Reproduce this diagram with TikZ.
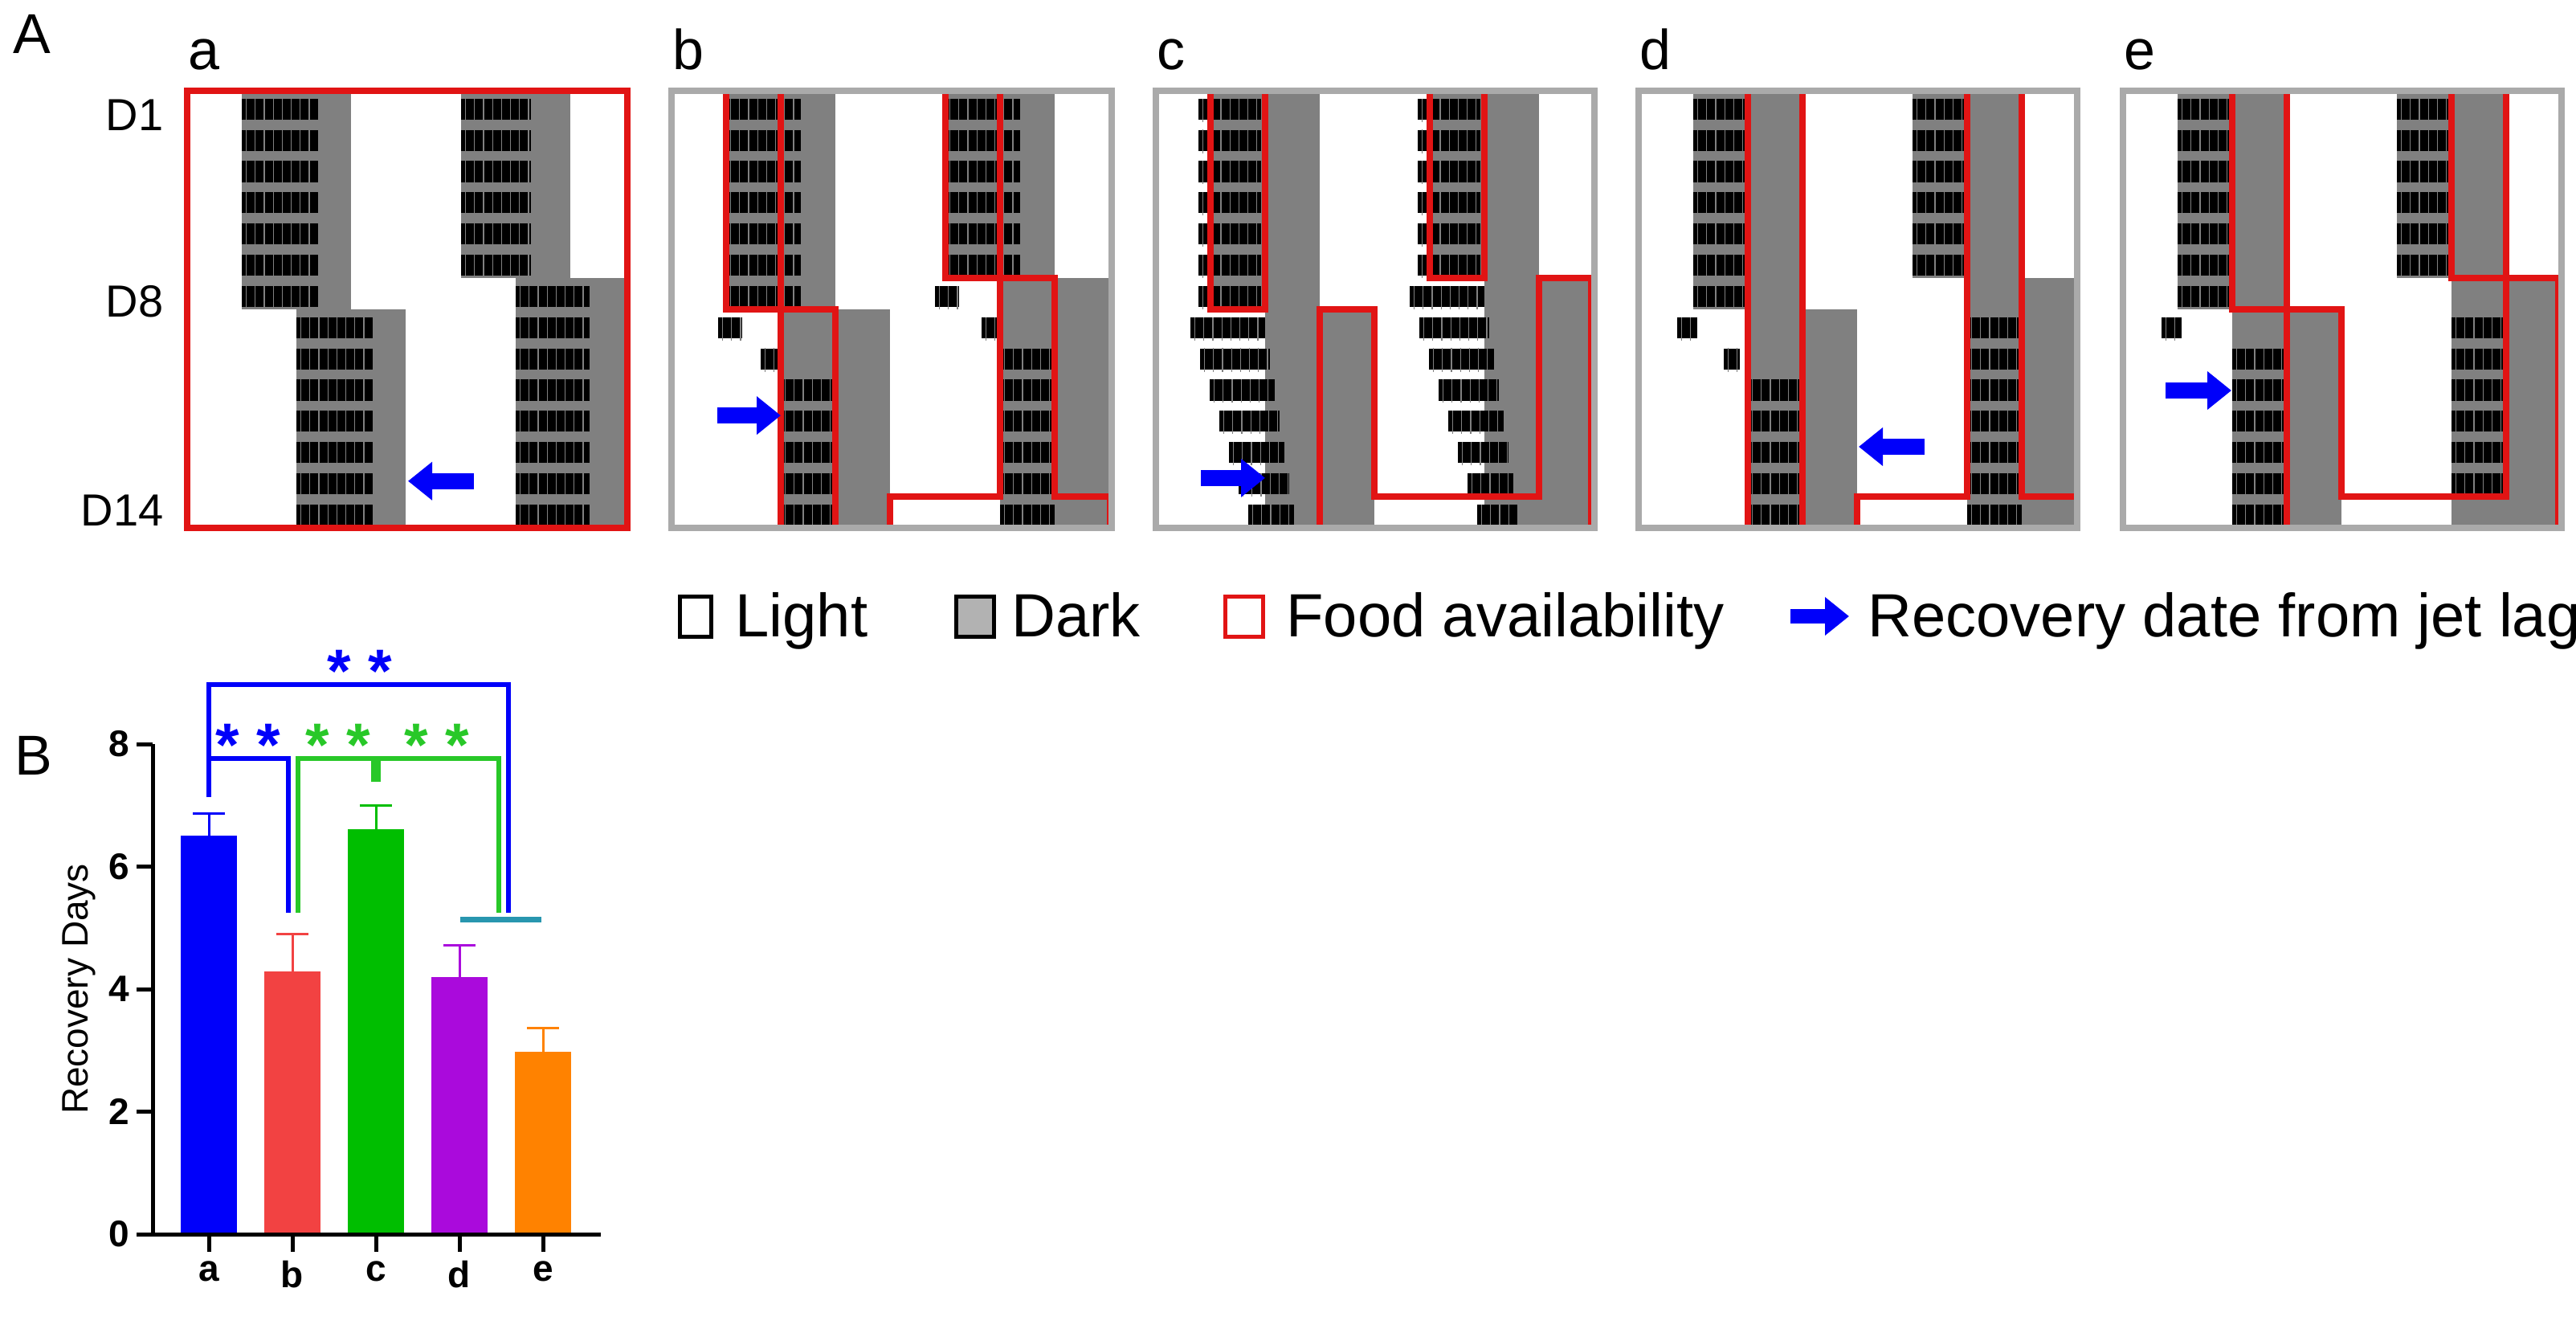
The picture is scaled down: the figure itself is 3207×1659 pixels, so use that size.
\documentclass[tikz,border=0pt]{standalone}
\usepackage{fontspec}
\setmainfont{Liberation Sans}
\usetikzlibrary{arrows.meta}
\definecolor{dk}{RGB}{128,128,128}
\definecolor{pgray}{RGB}{170,170,170}
\definecolor{fred}{RGB}{225,20,20}
\definecolor{bblue}{RGB}{0,0,250}
\definecolor{bred}{RGB}{242,66,66}
\definecolor{bgreen}{RGB}{0,190,0}
\definecolor{bpurple}{RGB}{170,10,220}
\definecolor{borange}{RGB}{255,130,0}
\definecolor{teal2}{RGB}{40,150,175}
\definecolor{sgreen}{RGB}{40,200,40}
\newcommand\fs[1]{\fontsize{#1}{#1}\selectfont}
\def\rh{38.857}
\def\eA{68}\def\eB{136}\def\eC{204}\def\eD{272}
\newcommand\act[3]{%
  \fill[black] ({#1},{(#3+1)*\rh-3}) rectangle ({#2},{(#3+0.25)*\rh});
  \draw[dk,line width={0.75*\rh},dash pattern=on 1.2 off 10] ({#1+5},{(#3+0.62)*\rh}) -- ({#2},{(#3+0.62)*\rh});}
\newcommand\darkbands{%
  \fill[dk] (\eA,0) rectangle (\eC,{7*\rh});
  \fill[dk] (\eB,{7*\rh}) rectangle (\eD,{14*\rh});
  \fill[dk] ({\eA+273},0) rectangle ({\eC+273},{6*\rh});
  \fill[dk] ({\eB+273},{6*\rh}) rectangle (546,{14*\rh});}
\tikzset{food/.style={draw=fred,line width=8,line join=miter},
  pframe/.style={draw=pgray,line width=8},
  jet/.style={draw=bblue,line width=20,-{Triangle[length=30,width=46]}},
  lab/.style={font=\fs{70}},
  dlab/.style={font=\fs{56},anchor=east},
  brk/.style={line width=6},
  ast/.style={font=\bfseries\fs{76}},
  tk/.style={font=\bfseries\fs{46}},
  leg/.style={font=\fs{76},anchor=base west}}
\begin{document}
\begin{tikzpicture}[x=1pt,y=-1pt]
\useasboundingbox (0,0) rectangle (3207,1659);
\fill[white] (0,0) rectangle (3207,1659);
\node[lab] (A) at (40,42) {A};
\node[dlab] (d1) at (207,143) {D1};
\node[dlab] (d8) at (207,375) {D8};
\node[dlab] (d14) at (207,635) {D14};
% ---------- panel a
\begin{scope}[shift={(233,113)}]
\darkbands
\foreach \k in {0,...,6} {\act{\eA}{\eA+95}{\k}}
\foreach \k in {7,...,13} {\act{\eB}{\eB+95}{\k}}
\foreach \k in {0,...,5} {\act{\eA+273}{\eA+360}{\k}}
\foreach \k in {6,...,13} {\act{\eB+273}{\eB+365}{\k}}
\draw[food] (0,0) rectangle (548,544);
\coordinate (aT) at (357,{12.5*\rh}); \coordinate (aH) at (275,{12.5*\rh});
\draw[jet] (aT) -- (aH);
\node[lab,anchor=south west] (la) at (-2,-22) {a};
\end{scope}
% ---------- panel b
\begin{scope}[shift={(836,113)}]
\darkbands
\foreach \k in {0,...,6} {\act{\eA}{\eB+25}{\k}}
\act{\eA-10}{\eA+20}{7}\act{\eB-25}{\eB}{8}
\foreach \k in {9,...,13} {\act{\eB}{\eC}{\k}}
\foreach \k in {0,...,5} {\act{\eA+273}{\eB+298}{\k}}
\act{\eA+260}{\eA+290}{6}\act{\eB+250}{\eB+273}{7}
\foreach \k in {8,...,13} {\act{\eB+273}{\eC+273}{\k}}
\draw[food] (\eA,0) rectangle (\eB,{7*\rh});
\draw[food] ({\eA+273},0) rectangle ({\eB+273},{6*\rh});
\draw[food] (\eB,{7*\rh}) rectangle (\eC,{14*\rh});
\draw[food] (\eD,{13*\rh}) -- ({\eB+273},{13*\rh}) -- ({\eB+273},{6*\rh}) -- ({\eC+273},{6*\rh}) -- ({\eC+273},{13*\rh}) -- (546,{13*\rh}) -- (546,{14*\rh}) -- (\eD,{14*\rh}) -- cycle;
\draw[pframe] (0,0) rectangle (548,544);
\coordinate (bT) at (57,{10.4*\rh}); \coordinate (bH) at (136,{10.4*\rh});
\draw[jet] (bT) -- (bH);
\node[lab,anchor=south west] (lb) at (-2,-22) {b};
\end{scope}
% ---------- panel c
\begin{scope}[shift={(1439,113)}]
\darkbands
\foreach \k in {0,...,6} {\act{\eA-15}{\eB-5}{\k}}
\foreach \k in {7,...,13} {\act{\eA-25+(\k-7)*12}{\eB+(\k-7)*6}{\k}}
\foreach \k in {0,...,5} {\act{\eA+258}{\eB+268}{\k}}
\foreach \k in {6,...,13} {\act{\eA+248+(\k-6)*12}{\eB+273+(\k-6)*6}{\k}}
\draw[food] (\eA,0) rectangle (\eB,{7*\rh});
\draw[food] ({\eA+273},0) rectangle ({\eB+273},{6*\rh});
\draw[food] (\eC,{7*\rh}) -- (\eD,{7*\rh}) -- (\eD,{13*\rh}) -- ({\eC+273},{13*\rh}) -- ({\eC+273},{6*\rh}) -- (542,{6*\rh}) -- (542,{14*\rh}) -- (\eC,{14*\rh}) -- cycle;
\draw[pframe] (0,0) rectangle (546,544);
\coordinate (cT) at (56,{12.4*\rh}); \coordinate (cH) at (136,{12.4*\rh});
\draw[jet] (cT) -- (cH);
\node[lab,anchor=south west] (lc) at (-2,-22) {c};
\end{scope}
% ---------- panel d
\begin{scope}[shift={(2040,113)}]
\darkbands
\foreach \k in {0,...,6} {\act{\eA}{\eB}{\k}}
\act{\eA-20}{\eA+5}{7}\act{\eB-30}{\eB-10}{8}
\foreach \k in {9,...,13} {\act{\eB}{\eC}{\k}}
\foreach \k in {0,...,5} {\act{\eA+273}{\eB+273}{\k}}
\foreach \k in {7,...,13} {\act{\eB+273}{\eC+273}{\k}}
\draw[food] (\eB,0) rectangle (\eC,{14*\rh});
\draw[food] (\eD,{13*\rh}) -- ({\eB+273},{13*\rh}) -- ({\eB+273},0) -- ({\eC+273},0) -- ({\eC+273},{13*\rh}) -- (546,{13*\rh}) -- (546,{14*\rh}) -- (\eD,{14*\rh}) -- cycle;
\draw[pframe] (0,0) rectangle (546,544);
\coordinate (dT) at (356,{11.4*\rh}); \coordinate (dH) at (274,{11.4*\rh});
\draw[jet] (dT) -- (dH);
\node[lab,anchor=south west] (ld) at (-2,-22) {d};
\end{scope}
% ---------- panel e
\begin{scope}[shift={(2643,113)}]
\darkbands
\foreach \k in {0,...,6} {\act{\eA}{\eB}{\k}}
\act{\eA-20}{\eA+5}{7}
\foreach \k in {8,...,13} {\act{\eB}{\eC}{\k}}
\foreach \k in {0,...,5} {\act{\eA+273}{\eB+273}{\k}}
\foreach \k in {7,...,12} {\act{\eB+273}{\eC+273}{\k}}
\draw[food] (\eB,0) rectangle (\eC,{7*\rh});
\draw[food] ({\eB+273},0) rectangle ({\eC+273},{6*\rh});
\draw[food] (\eC,{7*\rh}) -- (\eD,{7*\rh}) -- (\eD,{13*\rh}) -- ({\eC+273},{13*\rh}) -- ({\eC+273},{6*\rh}) -- (542,{6*\rh}) -- (542,{14*\rh}) -- (\eC,{14*\rh}) -- cycle;
\draw[pframe] (0,0) rectangle (546,544);
\coordinate (eT) at (53,{9.6*\rh}); \coordinate (eH) at (135,{9.6*\rh});
\draw[jet] (eT) -- (eH);
\node[lab,anchor=south west] (le) at (-2,-22) {e};
\end{scope}
% ---------- legend
\draw[black,line width=5] (846,742) rectangle (885,792);
\node[leg] (tL) at (912,792) {Light};
\draw[black,line width=5,fill=gray!60] (1190,742) rectangle (1237,792);
\node[leg] (tD) at (1256,792) {Dark};
\draw[fred,line width=5] (1525,742) rectangle (1572,792);
\node[leg] (tF) at (1598,792) {Food availability};
\coordinate (lgT) at (2229,767); \coordinate (lgH) at (2302,767);
\draw[jet,line width=18] (lgT) -- (lgH);
\node[leg] (tR) at (2322,792) {Recovery date from jet lag};
% ---------- panel B chart
\node[lab] (B) at (42,940) {B};
\foreach \c/\v/\e/\col in {0/6.5/6.87/bblue,1/4.29/4.9/bred,2/6.61/7.0/bgreen,3/4.2/4.72/bpurple,4/2.98/3.36/borange}{
  \fill[\col] ({260+104*\c-35},1536) rectangle ({260+104*\c+35},{1536-76.25*\v});
  \draw[\col,line width=3] ({260+104*\c},{1536-76.25*\v}) -- ({260+104*\c},{1536-76.25*\e});
  \draw[\col,line width=3] ({260+104*\c-20},{1536-76.25*\e}) -- ({260+104*\c+20},{1536-76.25*\e});
}
\draw[line width=5] (190,926) -- (190,1536) -- (748,1536);
\foreach \t in {0,2,4,6,8}{
  \draw[line width=5] (170,{1536-76.25*\t}) -- (190,{1536-76.25*\t});
  \node[tk,anchor=east] at (165,{1536-76.25*\t}) {\t};}
\foreach \c/\n in {0/a,1/b,2/c,3/d,4/e}{
  \draw[line width=5] ({260+104*\c},1536) -- ({260+104*\c},1558);
  \node[tk,anchor=north] at ({260+104*\c},1566) {\n};}
\node[font=\fs{46},rotate=90] (yl) at (98,1231) {Recovery Days};
% brackets
\draw[bblue,brk] (260,992) -- (260,852) -- (633,852) -- (633,1136);
\draw[bblue,brk] (260,944) -- (359,944) -- (359,1136);
\draw[sgreen,brk] (371,1136) -- (371,944) -- (621,944) -- (621,1136);
\draw[sgreen,line width=12] (468,944) -- (468,973);
\draw[teal2,line width=7] (573,1144) -- (674,1144);
\node[ast,text=bblue] (s1) at (448,835) {* *};
\node[ast,text=bblue] (s2) at (309,927) {* *};
\node[ast,text=sgreen] (s3) at (421,927) {* *};
\node[ast,text=sgreen] (s4) at (544,927) {* *};
\end{tikzpicture}
\end{document}
